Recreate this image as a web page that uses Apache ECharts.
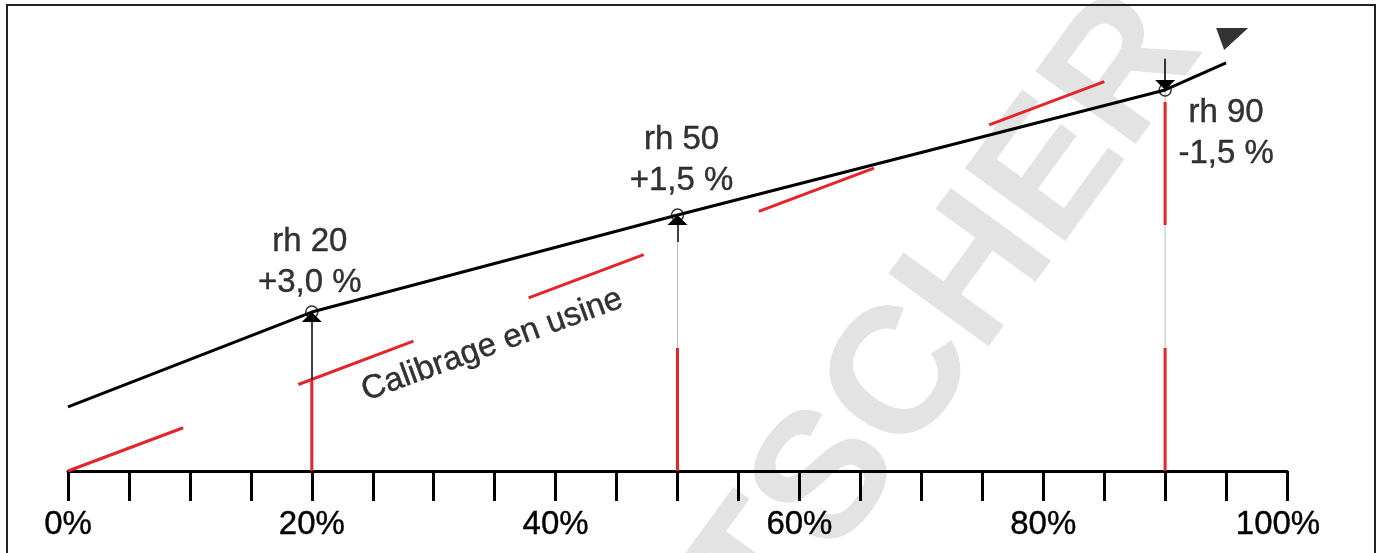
<!DOCTYPE html>
<html>
<head>
<meta charset="utf-8">
<script src="https://cdn.jsdelivr.net/npm/echarts@6/dist/echarts.min.js"></script>
<style>
  html, body { margin: 0; padding: 0; background: #fff; }
  #chart { width: 1380px; height: 553px; }
</style>
</head>
<body>
<div id="chart"></div>
<script>
// x: consigne rh (%), y: valeur (même échelle, calibrage usine = diagonale)
const labelTicks = [0, 20, 40, 60, 80, 100];
const factoryLine = [[0, 0], [90, 90]];
const sensorLine = [[0, 14.0], [20, 34.7], [50, 55.9], [90, 83.2], [95, 89.1]];
const calPoints = [20, 50, 90];
const measured = [34.7, 55.9, 83.2];
const pointNames = ['rh 20', 'rh 50', 'rh 90'];
const pointDelta = ['+3,0 %', '+1,5 %', '-1,5 %'];
const curveNote = 'Calibrage en usine';
const notePos = [34.8, 27.5];
const endMarker = [95.5, 94.3];

const RED = '#e3262b';
const FONT = 'Liberation Sans';
// pointe de flèche : la pointe est au centre de la boîte du symbole
const ARROW_HEAD = 'path://M0,20L4,10L8,20Z M4,0L4.001,0';

const chart = echarts.init(document.getElementById('chart'));

const labelOffsets = [[-2, -50], [4, -55], [61, 43]];
const textStyle = {
    fontFamily: FONT, fontSize: 33, color: '#000',
    textBorderColor: '#000', textBorderWidth: 0.4,
};

const series = [];

// lignes verticales grises fines
calPoints.slice(1).forEach((p) => {
    series.push({
        type: 'line', data: [[p, 0], [p, p]], showSymbol: false, silent: true, z: 1,
        lineStyle: { color: '#bbbbbb', width: 1 },
    });
});

// verticales rouges en tirets
calPoints.forEach((p) => {
    series.push({
        type: 'line', data: [[p, 0], [p, p]], showSymbol: false, silent: true, z: 2,
        lineStyle: { color: RED, width: 3, type: [123, 123], cap: 'butt' },
    });
});

// calibrage en usine
series.push({
    type: 'line', data: factoryLine, showSymbol: false, silent: true, z: 2,
    lineStyle: { color: RED, width: 3, type: [123, 123], cap: 'butt' },
});

// courbe du capteur
series.push({
    type: 'line', data: sensorLine, showSymbol: false, silent: true, z: 3,
    lineStyle: { color: '#000', width: 3 },
});

// flèches de correction
series.push({
    type: 'lines', coordinateSystem: 'cartesian2d', z: 4, silent: true,
    symbol: ['none', ARROW_HEAD], symbolSize: [8, 20],
    lineStyle: { color: '#000', width: 1.5, opacity: 1 },
    data: calPoints.map((p, i) => ({ coords: [[p, p], [p, measured[i]]] })),
});

// points de calibrage + étiquettes
series.push({
    type: 'scatter', z: 5, silent: true,
    symbol: 'circle', symbolSize: 12,
    itemStyle: { color: 'rgba(0,0,0,0)', borderColor: '#000', borderWidth: 1.5 },
    data: calPoints.map((p, i) => ({
        value: [p, measured[i]],
        label: Object.assign({
            show: true, position: 'inside', offset: labelOffsets[i],
            formatter: pointNames[i] + '\n' + pointDelta[i],
            lineHeight: 41, align: 'center',
        }, textStyle),
    })),
});

// texte "Calibrage en usine"
series.push({
    type: 'scatter', z: 5, silent: true, symbolSize: 0,
    data: [notePos],
    label: Object.assign({
        show: true, position: 'inside', rotate: 20, formatter: curveNote,
    }, textStyle),
});

// flèche de fin de courbe
series.push({
    type: 'scatter', z: 5, silent: true,
    symbol: 'path://M0,0L32,0L8,22Z', symbolSize: [32, 22],
    itemStyle: { color: '#000' },
    data: [endMarker],
});

chart.setOption({
    animation: false,
    backgroundColor: '#fff',
    grid: { left: 68, right: 93, top: 13, bottom: 82 },
    xAxis: {
        type: 'value', min: 0, max: 100, interval: 5,
        axisLine: { show: true, lineStyle: { color: '#000', width: 3 } },
        axisTick: { show: true, length: 30, lineStyle: { color: '#000', width: 3 } },
        axisLabel: Object.assign({
            margin: 37,
            formatter: (v) => {
                if (!labelTicks.includes(v)) return '';
                return v === 100 ? '{last|' + v + '%}' : v + '%';
            },
            rich: { last: Object.assign({ padding: [0, 18, 0, 0] }, textStyle) },
        }, textStyle),
        splitLine: { show: false },
    },
    yAxis: { type: 'value', min: 0, max: 100, show: false },
    graphic: [
        {
            type: 'text', x: 862, y: 436, rotation: 54 * Math.PI / 180, z: -10, silent: true,
            style: {
                text: 'FRITSCHER', fill: '#e3e3e3',
                font: 'bold 180px "Liberation Sans"',
                textAlign: 'center', textVerticalAlign: 'middle',
            },
        },
        {
            type: 'rect', z: 100, silent: true,
            shape: { x: 7, y: 5, width: 1368, height: 600 },
            style: { fill: 'transparent', stroke: '#222', lineWidth: 2 },
        },
    ],
    series,
});
</script>
</body>
</html>
